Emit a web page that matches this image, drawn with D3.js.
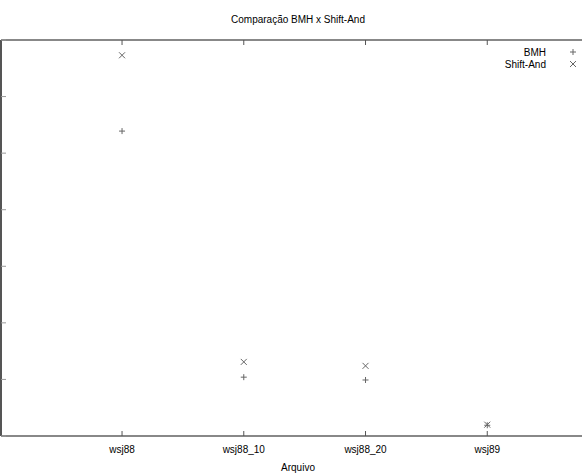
<!DOCTYPE html>
<html><head><meta charset="utf-8">
<script src="https://cdn.jsdelivr.net/npm/d3@7"></script>
<style>body{margin:0;background:#fff}svg{display:block;font-family:"Liberation Sans",Arial,sans-serif}</style>
</head><body><svg></svg>
<script>
// data
var files = ["wsj88", "wsj88_10", "wsj88_20", "wsj89"];
var bmh = [5.39, 1.04, 0.99, 0.19];
var shiftAnd = [6.73, 1.31, 1.24, 0.2];
var yTicks = [0, 1, 2, 3, 4, 5, 6, 7];

var W = 582, H = 476;
var svg = d3.select("svg").attr("width", W).attr("height", H);

var x = d3.scaleLinear().domain([0, 5]).range([0.3, 609]);
var y = d3.scaleLinear().domain([0, 7]).range([436, 40]);

// frame
svg.append("line").attr("x1", 1).attr("x2", W).attr("y1", 40).attr("y2", 40).attr("stroke", "#888").attr("stroke-width", 2);
svg.append("line").attr("x1", 1).attr("x2", W).attr("y1", 436).attr("y2", 436).attr("stroke", "#888").attr("stroke-width", 2);
svg.append("line").attr("x1", 1).attr("x2", 1).attr("y1", 40).attr("y2", 436).attr("stroke", "#555").attr("stroke-width", 2);

// y ticks (no labels visible)
svg.selectAll(".yt").data(yTicks).enter().append("line")
    .attr("x1", 1).attr("x2", 6).attr("y1", y).attr("y2", y)
    .attr("stroke", "#999").attr("stroke-width", 1);

// x ticks
var xg = svg.append("g");
files.forEach(function(f, i) {
    xg.append("line").attr("x1", x(i + 1)).attr("x2", x(i + 1)).attr("y1", 436).attr("y2", 431).attr("stroke", "#555");
    xg.append("line").attr("x1", x(i + 1)).attr("x2", x(i + 1)).attr("y1", 40).attr("y2", 45).attr("stroke", "#555");
    xg.append("text").attr("x", x(i + 1)).attr("y", 453).attr("text-anchor", "middle")
        .attr("font-size", 10).text(f);
});

svg.append("text").attr("x", 298).attr("y", 471).attr("text-anchor", "middle").attr("font-size", 10).text("Arquivo");
svg.append("text").attr("x", 298).attr("y", 23).attr("text-anchor", "middle").attr("font-size", 10).text("Comparação BMH x Shift-And");

function plus(g, cx, cy) {
    g.append("path").attr("d", "M" + (cx - 3) + "," + cy + "H" + (cx + 3) + "M" + cx + "," + (cy - 3) + "V" + (cy + 3))
        .attr("stroke", "#666").attr("fill", "none");
}
function cross(g, cx, cy) {
    g.append("path").attr("d", "M" + (cx - 3) + "," + (cy - 3) + "L" + (cx + 3) + "," + (cy + 3) + "M" + (cx + 3) + "," + (cy - 3) + "L" + (cx - 3) + "," + (cy + 3))
        .attr("stroke", "#666").attr("fill", "none");
}

var pts = svg.append("g");
bmh.forEach(function(v, i) { plus(pts, x(i + 1), y(v)); });
shiftAnd.forEach(function(v, i) { cross(pts, x(i + 1), y(v)); });

// legend
svg.append("text").attr("x", 546).attr("y", 56).attr("text-anchor", "end").attr("font-size", 10).text("BMH");
svg.append("text").attr("x", 546).attr("y", 68).attr("text-anchor", "end").attr("font-size", 10).text("Shift-And");
plus(svg, 573, 52);
cross(svg, 573, 64);
</script></body></html>
